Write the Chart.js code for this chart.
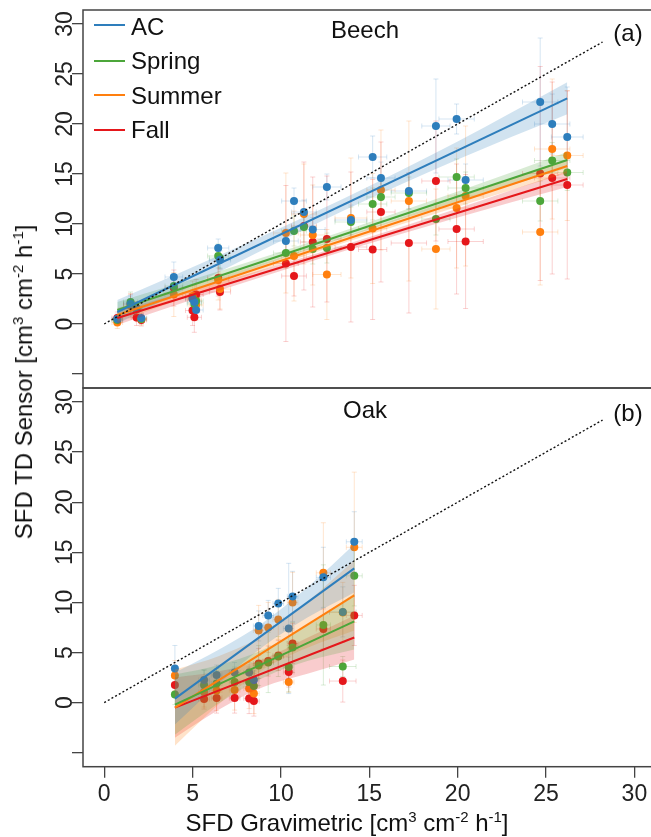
<!DOCTYPE html>
<html>
<head>
<meta charset="utf-8">
<script src="https://cdn.jsdelivr.net/npm/chart.js@4.4.1/dist/chart.umd.min.js"></script>
<style>
body { margin:0; width:651px; height:837px; overflow:hidden; position:relative; background:#fff;
       font-family:"Liberation Sans", Arial, sans-serif; color:#111; }
canvas { position:absolute; left:0; }
.t { position:absolute; font-size:24px; line-height:24px; white-space:nowrap; }
.t sup { font-size:15px; line-height:0; vertical-align:9px; }
.c { transform:translateX(-50%); }
.key { position:absolute; left:94px; width:31px; height:2px; }
</style>
</head>
<body>
<canvas id="beech" width="660" height="392" style="top:0"></canvas>
<canvas id="oak" width="660" height="453" style="top:384px"></canvas>

<div class="key" style="top:24px;background:#2e7ebc"></div>
<div class="key" style="top:60px;background:#4ca63a"></div>
<div class="key" style="top:94px;background:#ff7f0e"></div>
<div class="key" style="top:129px;background:#e5171b"></div>
<div class="t" style="left:131px;top:15px">AC</div>
<div class="t" style="left:131px;top:49px">Spring</div>
<div class="t" style="left:131px;top:84px">Summer</div>
<div class="t" style="left:131px;top:118px">Fall</div>

<div class="t c" style="left:365px;top:18px">Beech</div>
<div class="t c" style="left:628px;top:21px">(a)</div>
<div class="t c" style="left:365px;top:398px">Oak</div>
<div class="t c" style="left:628px;top:401px">(b)</div>

<div class="t c" style="left:347px;top:811px">SFD Gravimetric [cm<sup>3</sup> cm<sup>-2</sup> h<sup>-1</sup>]</div>
<div class="t" style="left:24px;top:382px;transform:translate(-50%,-50%) rotate(-90deg)">SFD TD Sensor [cm<sup>3</sup> cm<sup>-2</sup> h<sup>-1</sup>]</div>

<script>
// ---- data ----
var seasons = ['AC', 'Spring', 'Summer', 'Fall'];
var colors = ['#2e7ebc', '#4ca63a', '#ff7f0e', '#e5171b'];

var xTicks = [0, 5, 10, 15, 20, 25, 30];
var yTicks = [-5, 0, 5, 10, 15, 20, 25, 30];
var yTickLabels = ['', '0', '5', '10', '15', '20', '25', '30'];
var oneToOne = [0, 28.2];

// Beech
var beechX      = [0.74, 1.49, 1.83, 2.1, 3.94, 5.0, 5.1, 5.2, 6.45, 6.55, 10.28, 10.74, 11.3, 11.8, 12.6, 13.96, 15.19, 15.66, 17.24, 18.77, 19.94, 20.45, 24.67, 25.35, 26.2];
var beechAC     = [0.5, 2.0, 1.5, 0.6, 4.7, 2.5, 2.2, 1.4, 7.6, 6.4, 8.3, 12.3, 11.2, 9.45, 13.7, 10.4, 16.7, 14.6, 13.3, 19.8, 20.5, 14.4, 22.2, 20.0, 18.7];
var beechSpring = [0.4, 2.2, 1.6, 0.5, 3.8, 2.6, 2.0, 2.3, 6.8, 6.6, 7.1, 9.3, 9.7, 7.5, 7.6, 10.2, 12.0, 12.7, 13.1, 10.5, 14.7, 13.6, 12.3, 16.35, 15.15];
var beechSummer = [0.15, 1.8, 1.45, 0.5, 2.95, 2.8, 2.4, 1.9, 4.4, 3.5, 9.1, 6.8, 11.0, 8.9, 4.95, 10.6, 9.55, 13.4, 12.3, 7.5, 11.6, 12.8, 9.2, 17.5, 16.85];
var beechFall   = [0.6, 2.0, 0.65, 0.4, 3.6, 1.35, 0.67, 2.95, 4.6, 3.2, 6.05, 4.8, 9.8, 8.2, 8.5, 7.7, 7.45, 11.2, 8.1, 14.3, 9.5, 8.25, 15.05, 14.6, 13.9];
var beechXErr   = [0.3, 0.4, 0.3, 0.3, 0.5, 0.4, 0.4, 0.4, 0.6, 0.6, 0.7, 0.7, 0.7, 0.7, 0.8, 0.9, 0.8, 0.8, 1.0, 0.8, 1.0, 1.0, 1.0, 1.0, 0.9];
var beechACErr     = [0.5, 0.8, 0.6, 0.5, 1.5, 0.8, 0.8, 0.8, 0.9, 0.9, 1.2, 1.3, 1.2, 1.2, 1.3, 1.5, 2.1, 1.6, 1.8, 4.7, 1.5, 1.6, 6.4, 3.0, 5.0];
var beechSpringErr = [0.5, 1.0, 0.6, 0.5, 1.0, 0.8, 0.8, 0.8, 1.2, 1.0, 1.5, 1.5, 1.5, 1.5, 1.5, 1.5, 1.6, 1.6, 1.6, 1.6, 1.8, 1.6, 2.0, 1.8, 1.8];
var beechSummerErr = [0.6, 1.2, 0.8, 0.6, 2.2, 1.5, 1.5, 1.5, 2.0, 2.0, 6.0, 4.5, 5.0, 5.0, 4.5, 6.0, 5.5, 6.0, 8.0, 6.0, 6.0, 7.0, 5.3, 7.0, 6.5];
var beechFallErr   = [0.6, 1.0, 0.8, 0.6, 1.8, 1.5, 1.5, 1.5, 1.8, 1.8, 7.8, 2.0, 6.4, 6.5, 6.3, 7.5, 7.0, 7.0, 7.0, 6.0, 6.5, 6.7, 10.7, 9.6, 9.4];

var beechFitX = [0.74, 26.2];
var beechACFit = [1.2, 22.57];
var beechSpringFit = [1.4, 16.4];
var beechSummerFit = [0.9, 15.8];
var beechFallFit = [0.6, 14.5];

var beechBandX = [0.74, 7, 13.5, 20, 26.2];
var beechACLo = [0.0, 5.65, 11.3, 16.45, 20.97];
var beechACHi = [2.4, 7.25, 12.5, 18.25, 24.17];
var beechSpringLo = [0.6, 4.64, 8.57, 12.24, 15.6];
var beechSpringHi = [2.2, 5.54, 9.27, 13.24, 17.2];
var beechSummerLo = [0.2, 4.16, 8.07, 11.72, 15.1];
var beechSummerHi = [1.6, 4.96, 8.67, 12.62, 16.5];
var beechFallLo = [-0.1, 3.62, 7.26, 10.66, 13.7];
var beechFallHi = [1.3, 4.42, 7.86, 11.56, 15.3];

// Oak
var oakX      = [4.0, 5.65, 6.36, 7.38, 8.2, 8.47, 8.74, 9.28, 9.85, 10.44, 10.66, 12.4, 13.5, 14.15];
var oakAC     = [3.4, 2.25, 2.75, 3.0, 3.0, 2.25, 7.65, 8.7, 9.9, 7.4, 10.6, 12.5, 9.05, 16.05];
var oakSpring = [0.8, 1.75, 1.9, 2.05, 2.05, 1.65, 3.7, 4.0, 4.6, 3.55, 5.5, 7.75, 3.6, 12.65];
var oakSummer = [2.7, 1.05, 1.2, 1.25, 1.4, 0.9, 7.2, 7.5, 8.3, 2.05, 10.0, 12.95, 9.0, 15.5];
var oakFall   = [1.75, 0.35, 0.45, 0.45, 0.4, 0.15, 3.9, 4.15, 4.7, 3.05, 5.9, 7.35, 2.15, 8.7];
var oakXErr   = [0.15, 0.3, 0.3, 0.3, 0.3, 0.3, 0.3, 0.3, 0.3, 0.3, 0.3, 0.4, 0.75, 0.45];
var oakACErr     = [2.3, 1.0, 1.0, 1.0, 1.0, 1.0, 1.5, 1.5, 1.5, 6.5, 2.5, 3.0, 2.5, 3.0];
var oakSpringErr = [1.0, 1.5, 1.5, 1.5, 1.5, 1.5, 2.0, 3.0, 2.0, 2.5, 2.5, 6.0, 1.0, 3.0];
var oakSummerErr = [1.5, 1.5, 2.0, 2.0, 2.0, 2.0, 2.5, 2.5, 2.0, 1.0, 3.0, 5.0, 3.0, 7.5];
var oakFallErr   = [1.0, 1.0, 1.5, 1.5, 1.5, 1.5, 1.5, 1.5, 1.5, 1.5, 2.0, 2.0, 2.1, 3.0];

var oakFitX = [4.0, 14.15];
var oakACFit = [0.4, 13.4];
var oakSpringFit = [-0.2, 8.1];
var oakSummerFit = [-0.5, 10.7];
var oakFallFit = [-0.5, 6.5];

var oakBandX = [4.0, 6.5, 9.0, 11.5, 14.15];
var oakACLo = [-2.2, 1.9, 5.6, 8.5, 11.0];
var oakACHi = [3.0, 5.3, 8.0, 11.5, 15.8];
var oakSpringLo = [-3.2, -0.05, 2.49, 4.14, 5.3];
var oakSpringHi = [2.8, 3.75, 5.29, 7.74, 10.9];
var oakSummerLo = [-4.3, -0.14, 3.31, 5.47, 7.2];
var oakSummerHi = [3.3, 4.66, 6.71, 10.07, 14.2];
var oakFallLo = [-3.5, -0.68, 1.55, 2.87, 4.3];
var oakFallHi = [2.5, 3.12, 4.35, 6.47, 8.7];

// ---- helpers ----
var FONT = '"Liberation Sans", Arial, sans-serif';

function rgba(hex, a) {
  var n = parseInt(hex.slice(1), 16);
  return 'rgba(' + (n >> 16) + ',' + ((n >> 8) & 255) + ',' + (n & 255) + ',' + a + ')';
}

function pts(xs, ys) {
  return xs.map(function (v, i) { return {x: v, y: ys[i]}; });
}

function buildDatasets(x, xErr, ys, yErrs, fitX, fits, bandX, los, his) {
  var ds = [];
  for (var k = 0; k < 4; k++) {
    var c = colors[k];
    ds.push({type: 'scatter', label: seasons[k], data: pts(x, ys[k]), backgroundColor: c,
             pointRadius: 4, pointBorderWidth: 0, order: 5, xErr: xErr, yErr: yErrs[k]});
    ds.push({type: 'line', data: pts(bandX, his[k]), borderWidth: 0, pointRadius: 0,
             fill: '+1', backgroundColor: rgba(c, 0.22), cubicInterpolationMode: 'monotone', order: 3});
    ds.push({type: 'line', data: pts(bandX, los[k]), borderWidth: 0, pointRadius: 0,
             fill: false, cubicInterpolationMode: 'monotone', order: 3});
    ds.push({type: 'line', data: pts(fitX, fits[k]), borderColor: c, borderWidth: 2,
             pointRadius: 0, fill: false, order: 2});
  }
  ds.push({type: 'line', data: pts(oneToOne, oneToOne), borderColor: '#111', borderWidth: 1.4,
           borderDash: [2, 2.2], pointRadius: 0, fill: false, order: 1});
  return ds;
}

var errorBars = {
  id: 'errorBars',
  beforeDatasetsDraw: function (chart) {
    var ctx = chart.ctx, xs = chart.scales.x, ys = chart.scales.y, a = chart.chartArea;
    ctx.save();
    ctx.beginPath();
    ctx.rect(a.left, a.top, a.right - a.left, a.bottom - a.top);
    ctx.clip();
    chart.data.datasets.forEach(function (d) {
      if (!d.yErr) return;
      ctx.strokeStyle = rgba(d.backgroundColor, 0.2);
      ctx.lineWidth = 1;
      d.data.forEach(function (p, i) {
        var px = xs.getPixelForValue(p.x), py = ys.getPixelForValue(p.y);
        var y1 = ys.getPixelForValue(p.y - d.yErr[i]), y2 = ys.getPixelForValue(p.y + d.yErr[i]);
        var x1 = xs.getPixelForValue(p.x - d.xErr[i]), x2 = xs.getPixelForValue(p.x + d.xErr[i]);
        ctx.beginPath();
        ctx.moveTo(px, y1); ctx.lineTo(px, y2);
        ctx.moveTo(px - 2.5, y1); ctx.lineTo(px + 2.5, y1);
        ctx.moveTo(px - 2.5, y2); ctx.lineTo(px + 2.5, y2);
        ctx.moveTo(x1, py); ctx.lineTo(x2, py);
        ctx.moveTo(x1, py - 2.5); ctx.lineTo(x1, py + 2.5);
        ctx.moveTo(x2, py - 2.5); ctx.lineTo(x2, py + 2.5);
        ctx.stroke();
      });
    });
    ctx.restore();
  }
};

var frame = {
  id: 'frame',
  afterDraw: function (chart) {
    var ctx = chart.ctx, a = chart.chartArea;
    ctx.save();
    ctx.strokeStyle = '#444';
    ctx.lineWidth = 1.5;
    ctx.strokeRect(a.left, a.top, a.right - a.left, a.bottom - a.top);
    ctx.restore();
  }
};

function makeChart(id, datasets, showX, pad) {
  return new Chart(document.getElementById(id), {
    type: 'scatter',
    data: {datasets: datasets},
    plugins: [errorBars, frame],
    options: {
      responsive: false,
      animation: false,
      events: [],
      layout: {padding: pad},
      plugins: {legend: {display: false}, tooltip: {enabled: false}},
      scales: {
        x: {
          type: 'linear', min: -1.2, max: 31.2, display: showX,
          afterBuildTicks: function (s) { s.ticks = xTicks.map(function (v) { return {value: v}; }); },
          afterFit: function (s) { s.height = showX ? 70.3 : 0; s.paddingLeft = 0; s.paddingRight = 0; },
          ticks: {maxRotation: 0, padding: 3.5, color: '#222', font: {family: FONT, size: 23}},
          grid: {drawOnChartArea: false, tickLength: 11, color: '#444', lineWidth: 1.3},
          border: {display: false}
        },
        y: {
          type: 'linear', min: -6.4, max: 31.4,
          afterBuildTicks: function (s) { s.ticks = yTicks.map(function (v) { return {value: v}; }); },
          afterFit: function (s) { s.width = 83; s.paddingTop = 0; s.paddingBottom = 0; },
          ticks: {
            callback: function (v, i) { return yTickLabels[i]; },
            minRotation: 90, maxRotation: 90, crossAlign: 'center', padding: -6,
            color: '#222', font: {family: FONT, size: 23}
          },
          grid: {drawOnChartArea: false, tickLength: 11, color: '#444', lineWidth: 1.3},
          border: {display: false}
        }
      }
    }
  });
}

makeChart('beech',
  buildDatasets(beechX, beechXErr,
    [beechAC, beechSpring, beechSummer, beechFall],
    [beechACErr, beechSpringErr, beechSummerErr, beechFallErr],
    beechFitX, [beechACFit, beechSpringFit, beechSummerFit, beechFallFit],
    beechBandX, [beechACLo, beechSpringLo, beechSummerLo, beechFallLo],
    [beechACHi, beechSpringHi, beechSummerHi, beechFallHi]),
  false, {top: 10, bottom: 4, left: 0, right: 4.4});

makeChart('oak',
  buildDatasets(oakX, oakXErr,
    [oakAC, oakSpring, oakSummer, oakFall],
    [oakACErr, oakSpringErr, oakSummerErr, oakFallErr],
    oakFitX, [oakACFit, oakSpringFit, oakSummerFit, oakFallFit],
    oakBandX, [oakACLo, oakSpringLo, oakSummerLo, oakFallLo],
    [oakACHi, oakSpringHi, oakSummerHi, oakFallHi]),
  true, {top: 4, bottom: 0, left: 0, right: 4.4});
</script>
</body>
</html>
